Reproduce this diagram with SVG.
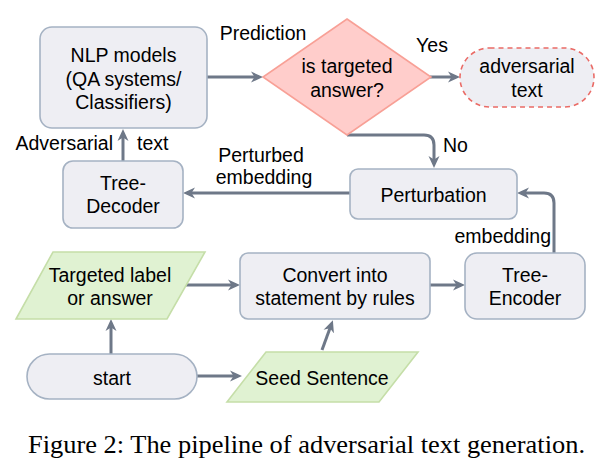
<svg xmlns="http://www.w3.org/2000/svg" width="595" height="472" viewBox="0 0 595 472">
<style>
text{font-family:"Liberation Sans",Arial,sans-serif;font-size:19.5px;fill:#000}
.c{text-anchor:middle}
.node{fill:#eeeef3;stroke:#a5b2c3;stroke-width:1.6}
.green{fill:#e0f2d2;stroke:#c5dea8;stroke-width:1.6}
.dia{fill:#ffcdcb;stroke:#f8a096;stroke-width:1.6}
.dash{fill:#eeeef3;stroke:#ea6b66;stroke-width:1.6;stroke-dasharray:5 4}
.e{fill:none;stroke:#6e7888;stroke-width:3;marker-end:url(#ah)}
.cap{font-family:"Liberation Serif","Times New Roman",serif;font-size:24.5px}
</style>
<defs>
<marker id="ah" viewBox="0 0 12 12" refX="8" refY="6" markerWidth="12" markerHeight="12" markerUnits="userSpaceOnUse" orient="auto">
<path d="M0,0.5 L12,6 L0,11.5 L3.5,6 Z" fill="#6e7888"/>
</marker>
</defs>
<rect width="595" height="472" fill="#fff"/>
<g id="connectors">
<path class="e" d="M123,161 V133"/>
<path class="e" d="M207,77 H259"/>
<path class="e" d="M430,77 H456"/>
<path class="e" d="M347,135 H424 Q434,135 434,145 V164"/>
<path class="e" d="M350,193 H187"/>
<path class="e" d="M554,253 V203 Q554,193 544,193 H521"/>
<path class="e" d="M430,285 H461"/>
<path class="e" d="M186,285 H236"/>
<path class="e" d="M111,354 V323"/>
<path class="e" d="M197,376 H238"/>
<path class="e" d="M322,350 L331.5,324"/>
<text x="263" y="40" class="c">Prediction</text>
<text x="432" y="52" class="c">Yes</text>
<text x="443" y="152">No</text>
<text x="113" y="150" text-anchor="end">Adversarial</text>
<text x="137" y="150">text</text>
<text x="261" y="162" class="c">Perturbed</text>
<text x="264" y="184" class="c">embedding</text>
<text x="551" y="243" text-anchor="end">embedding</text>
</g>
<g id="nlp">
<rect class="node" x="40" y="27" width="167" height="101" rx="12"/>
<text x="123.5" y="62" class="c">NLP models</text>
<text x="123.5" y="85.5" class="c">(QA systems/</text>
<text x="123.5" y="109" class="c">Classifiers)</text>
</g>
<g id="decision">
<polygon class="dia" points="347,19 431,77 347,135 263,77"/>
<text x="347" y="73" class="c">is targeted</text>
<text x="347" y="97" class="c">answer?</text>
</g>
<g id="advtext">
<rect class="dash" x="460" y="48" width="134" height="59" rx="29.5"/>
<text x="527" y="73" class="c">adversarial</text>
<text x="527" y="97" class="c">text</text>
</g>
<g id="decoder">
<rect class="node" x="63" y="161" width="120" height="67" rx="10"/>
<text x="123" y="190" class="c">Tree-</text>
<text x="123" y="213" class="c">Decoder</text>
</g>
<g id="perturbation">
<rect class="node" x="350" y="169" width="167" height="50" rx="8"/>
<text x="433.5" y="202" class="c">Perturbation</text>
</g>
<g id="targeted">
<polygon class="green" points="53,252 205,252 167,319 16,319"/>
<text x="110" y="282" class="c">Targeted label</text>
<text x="110" y="305" class="c">or answer</text>
</g>
<g id="convert">
<rect class="node" x="240" y="253" width="190" height="66" rx="8"/>
<text x="335" y="282" class="c">Convert into</text>
<text x="335" y="305" class="c">statement by rules</text>
</g>
<g id="encoder">
<rect class="node" x="465" y="253" width="120" height="66" rx="12"/>
<text x="525" y="282" class="c">Tree-</text>
<text x="525" y="305" class="c">Encoder</text>
</g>
<g id="start">
<rect class="node" x="27" y="354" width="170" height="45" rx="22.5"/>
<text x="112" y="385" class="c">start</text>
</g>
<g id="seed">
<polygon class="green" points="266,352 418,352 379,402 227,402"/>
<text x="322" y="385" class="c">Seed Sentence</text>
</g>
<text x="28" y="453" class="cap" textLength="557" lengthAdjust="spacingAndGlyphs">Figure 2: The pipeline of adversarial text generation.</text>
</svg>
